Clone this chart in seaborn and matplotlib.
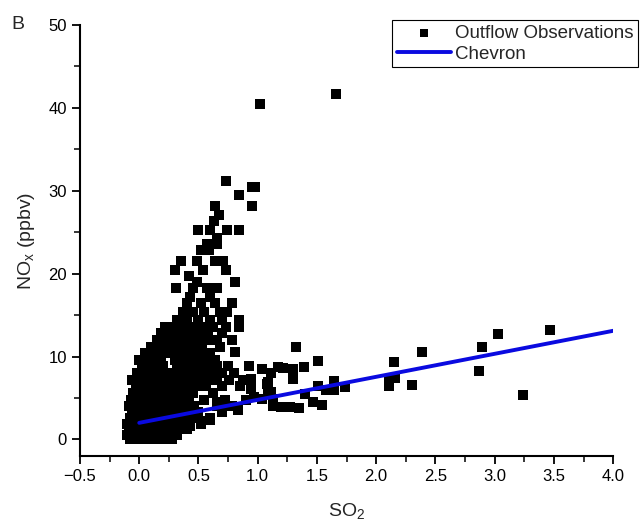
import pandas as pd
import seaborn as sns
import matplotlib.pyplot as plt
from matplotlib.ticker import MultipleLocator

# outflow observations (SO2, NOx)
so2 = [
    # dense blob, bottom to top
    -0.08, -0.02, 0.04, 0.10, 0.16, 0.22, 0.28,
    -0.10, -0.04, 0.02, 0.08, 0.14, 0.20, 0.26, 0.32,
    -0.09, -0.03, 0.03, 0.09, 0.15, 0.21, 0.27, 0.33, 0.40,
    -0.10, -0.05, 0.01, 0.07, 0.12, 0.18, 0.24, 0.30, 0.36, 0.43, 0.52,
    -0.08, -0.02, 0.04, 0.10, 0.16, 0.22, 0.28, 0.34, 0.40, 0.47, 0.60,
    -0.06, 0.00, 0.06, 0.12, 0.18, 0.24, 0.30, 0.36, 0.42, 0.50, 0.70,
    -0.09, -0.03, 0.03, 0.09, 0.15, 0.21, 0.27, 0.33, 0.39, 0.46, 0.66, 0.78,
    -0.07, -0.01, 0.05, 0.11, 0.17, 0.23, 0.29, 0.35, 0.42, 0.55, 0.72, 0.90,
    -0.05, 0.01, 0.07, 0.13, 0.19, 0.25, 0.31, 0.38, 0.45, 0.62,
    -0.03, 0.03, 0.09, 0.15, 0.21, 0.27, 0.33, 0.40, 0.48, 0.56, 0.70, 0.85,
    -0.06, 0.00, 0.06, 0.12, 0.18, 0.24, 0.30, 0.36, 0.43, 0.50, 0.58, 0.66, 0.76, 0.88,
    -0.02, 0.04, 0.10, 0.16, 0.22, 0.29, 0.35, 0.42, 0.48, 0.55, 0.62, 0.70, 0.80,
    0.02, 0.08, 0.14, 0.20, 0.32, 0.38, 0.44, 0.50, 0.57, 0.66, 0.75,
    0.00, 0.06, 0.12, 0.18, 0.30, 0.36, 0.42, 0.48, 0.56, 0.64,
    0.05, 0.11, 0.17, 0.23, 0.29, 0.35, 0.41, 0.47, 0.60,
    0.10, 0.16, 0.22, 0.28, 0.34, 0.40, 0.46, 0.53, 0.68,
    0.15, 0.21, 0.27, 0.33, 0.39, 0.45, 0.52, 0.58, 0.66, 0.78,
    0.18, 0.24, 0.30, 0.36, 0.42, 0.50, 0.58, 0.70,
    0.22, 0.30, 0.38, 0.45, 0.54, 0.62, 0.73, 0.84,
    # upper arm
    0.32, 0.40, 0.50, 0.60, 0.70, 0.84,
    0.37, 0.45, 0.55, 0.68, 0.74,
    0.40, 0.52, 0.64, 0.78,
    0.43, 0.60,
    0.31, 0.45, 0.57, 0.66,
    0.49, 0.81,
    0.42,
    0.30, 0.54, 0.73,
    0.35, 0.49, 0.64, 0.71,
    0.52, 0.59,
    0.57, 0.66,
    0.66,
    0.50, 0.60, 0.74, 0.84,
    0.63, 0.67, 0.64, 0.95, 0.84, 0.95, 0.98, 0.73,
    1.02, 1.66,
    # scattered band to the right
    0.81, 0.54, 0.93, 1.04, 1.11, 1.17, 1.21, 1.30, 1.39, 1.32, 1.51,
    1.30, 1.09, 1.09, 1.08, 1.13, 1.04, 0.94, 0.94, 1.13, 1.20, 1.27, 1.35,
    1.47, 1.54, 1.40, 1.51, 1.58, 1.64, 1.64, 1.74, 0.97, 1.11,
    0.66, 0.74, 0.83, 0.60, 0.52, 0.43,
    2.11, 2.16, 2.11, 2.15, 2.30, 2.39, 2.87, 2.89, 3.03, 3.24, 3.47,
]
nox = [
    0.0, 0.0, 0.0, 0.0, 0.0, 0.0, 0.0,
    0.5, 0.5, 0.5, 0.5, 0.5, 0.5, 0.5, 0.5,
    1.2, 1.2, 1.2, 1.2, 1.2, 1.2, 1.2, 1.2, 1.2,
    1.9, 1.9, 1.9, 1.9, 1.9, 1.9, 1.9, 1.9, 1.9, 1.9, 1.9,
    2.6, 2.6, 2.6, 2.6, 2.6, 2.6, 2.6, 2.6, 2.6, 2.6, 2.6,
    3.3, 3.3, 3.3, 3.3, 3.3, 3.3, 3.3, 3.3, 3.3, 3.3, 3.3,
    4.0, 4.0, 4.0, 4.0, 4.0, 4.0, 4.0, 4.0, 4.0, 4.0, 4.0, 4.0,
    4.8, 4.8, 4.8, 4.8, 4.8, 4.8, 4.8, 4.8, 4.8, 4.8, 4.8, 4.8,
    5.6, 5.6, 5.6, 5.6, 5.6, 5.6, 5.6, 5.6, 5.6, 5.6,
    6.4, 6.4, 6.4, 6.4, 6.4, 6.4, 6.4, 6.4, 6.4, 6.4, 6.4, 6.4,
    7.2, 7.2, 7.2, 7.2, 7.2, 7.2, 7.2, 7.2, 7.2, 7.2, 7.2, 7.2, 7.2, 7.2,
    8.0, 8.0, 8.0, 8.0, 8.0, 8.0, 8.0, 8.0, 8.0, 8.0, 8.0, 8.0, 8.0,
    8.8, 8.8, 8.8, 8.8, 8.8, 8.8, 8.8, 8.8, 8.8, 8.8, 8.8,
    9.6, 9.6, 9.6, 9.6, 9.6, 9.6, 9.6, 9.6, 9.6, 9.6,
    10.4, 10.4, 10.4, 10.4, 10.4, 10.4, 10.4, 10.4, 10.4,
    11.2, 11.2, 11.2, 11.2, 11.2, 11.2, 11.2, 11.2, 11.2,
    12.0, 12.0, 12.0, 12.0, 12.0, 12.0, 12.0, 12.0, 12.0, 12.0,
    12.8, 12.8, 12.8, 12.8, 12.8, 12.8, 12.8, 12.8,
    13.6, 13.6, 13.6, 13.6, 13.6, 13.6, 13.6, 13.6,
    14.4, 14.4, 14.4, 14.4, 14.4, 14.4,
    15.4, 15.4, 15.4, 15.4, 15.4,
    16.5, 16.5, 16.5, 16.5,
    17.2, 17.2,
    18.3, 18.3, 18.3, 18.3,
    19.0, 19.0,
    19.7,
    20.4, 20.4, 20.4,
    21.5, 21.5, 21.5, 21.5,
    22.8, 22.8,
    23.6, 23.6,
    24.3,
    25.3, 25.3, 25.3, 25.3,
    26.4, 27.1, 28.2, 28.2, 29.5, 30.5, 30.5, 31.2,
    40.5, 41.7,
    10.6, 10.2, 8.9, 8.5, 8.0, 8.7, 8.6, 8.5, 8.7, 11.1, 9.5,
    7.3, 6.9, 5.9, 6.7, 4.9, 4.9, 6.1, 7.3, 4.0, 3.9, 3.9, 3.8,
    4.5, 4.2, 5.5, 6.5, 5.9, 5.9, 7.0, 6.3, 5.1, 5.7,
    4.5, 4.0, 3.6, 2.4, 2.2, 1.6,
    7.3, 7.4, 6.5, 9.3, 6.6, 10.5, 8.2, 11.2, 12.7, 5.4, 13.2,
]

# Chevron line end points
chevron_so2 = [0.0, 4.0]
chevron_nox = [2.0, 13.1]

obs = pd.DataFrame({"SO2": so2, "NOx": nox})
line = pd.DataFrame({"SO2": chevron_so2, "NOx": chevron_nox})

sns.set_theme(style="ticks")
plt.rcParams["font.family"] = ["Liberation Sans", "DejaVu Sans"]
plt.rcParams["mathtext.default"] = "regular"

fig = plt.figure(figsize=(6.4, 5.29), dpi=100)
ax = fig.add_axes([0.125, 0.138, 0.833, 0.815])

sns.scatterplot(data=obs, x="SO2", y="NOx", marker="s", color="black",
                s=48, linewidth=0, ax=ax, label="Outflow Observations", zorder=2)
sns.lineplot(data=line, x="SO2", y="NOx", color="#0a0ae0", linewidth=2.8,
             ax=ax, label="Chevron", zorder=3)

ax.set_xlim(-0.5, 4.0)
ax.set_ylim(-2, 50)
ax.xaxis.set_major_locator(MultipleLocator(0.5))
ax.xaxis.set_minor_locator(MultipleLocator(0.25))
ax.yaxis.set_major_locator(MultipleLocator(10))
ax.yaxis.set_minor_locator(MultipleLocator(5))
ax.tick_params(which="major", length=6, width=1.3, labelsize=12, colors="black")
ax.tick_params(which="minor", length=4, width=1.3)
for side in ["left", "bottom"]:
    ax.spines[side].set_linewidth(1.5)
    ax.spines[side].set_color("black")
sns.despine(ax=ax)

ax.set_xlabel("SO$_2$", fontsize=14, labelpad=12)
ax.set_ylabel("NO$_x$ (ppbv)", fontsize=14, labelpad=8)

leg = ax.legend(loc="upper right", bbox_to_anchor=(0.997, 0.962),
                bbox_transform=fig.transFigure, fontsize=13.5, frameon=True,
                fancybox=False, framealpha=1, edgecolor="black",
                handlelength=2.9, handletextpad=0.2, labelspacing=0.2,
                borderpad=0.25, borderaxespad=0, markerscale=0.8)
leg.get_frame().set_linewidth(0.8)

fig.text(0.018, 0.945, "B", fontsize=14)

fig.savefig("out.png", dpi=100)
